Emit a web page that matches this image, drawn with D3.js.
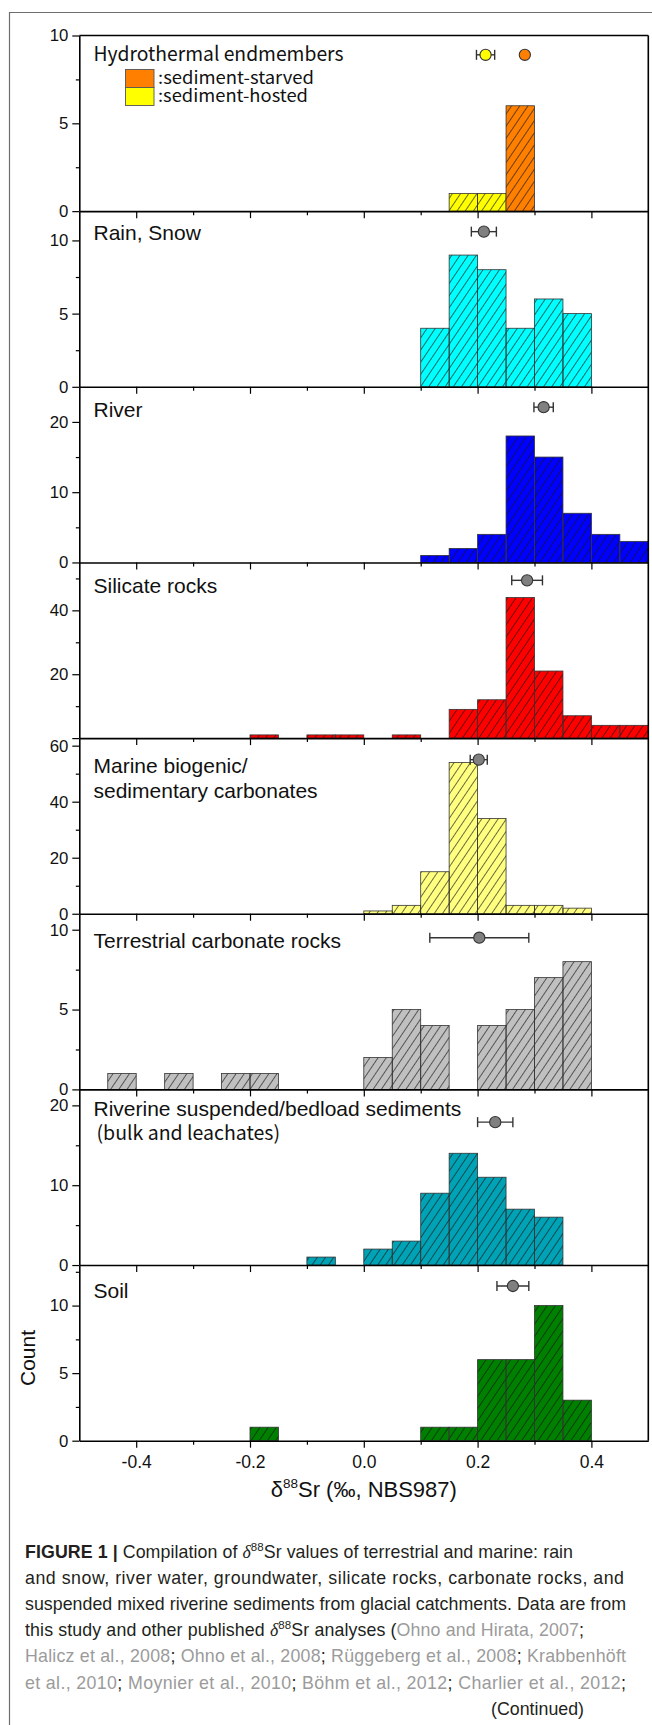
<!DOCTYPE html>
<html>
<head>
<meta charset="utf-8">
<script src="https://cdn.jsdelivr.net/npm/d3@7"></script>
<style>
  body { margin: 0; background: #fff; }
  svg { display: block; }
</style>
</head>
<body>
<svg id="fig" width="652" height="1725"></svg>
<script>
// ---- histogram bins (δ88Sr, ‰) ----
const binEdges = [-0.5, -0.45, -0.4, -0.35, -0.3, -0.25, -0.2, -0.15, -0.1, -0.05, 0,
                  0.05, 0.1, 0.15, 0.2, 0.25, 0.3, 0.35, 0.4, 0.45, 0.5];

// ---- counts per bin, one array per reservoir ----
const hydroHosted    = [0,0,0,0,0,0,0,0,0,0,0,0,0,1,1,0,0,0,0,0];
const hydroStarved   = [0,0,0,0,0,0,0,0,0,0,0,0,0,0,0,6,0,0,0,0];
const rainCounts     = [0,0,0,0,0,0,0,0,0,0,0,0,4,9,8,4,6,5,0,0];
const riverCounts    = [0,0,0,0,0,0,0,0,0,0,0,0,1,2,4,18,15,7,4,3];
const silicateCounts = [0,0,0,0,0,0,1,0,1,1,0,1,0,9,12,44,21,7,4,4];
const marineCounts   = [0,0,0,0,0,0,0,0,0,0,1,3,15,54,34,3,3,2,0,0];
const terrCounts     = [0,1,0,1,0,1,1,0,0,0,2,5,4,0,4,5,7,8,0,0];
const riverineCounts = [0,0,0,0,0,0,0,0,1,0,2,3,9,14,11,7,6,0,0,0];
const soilCounts     = [0,0,0,0,0,0,1,0,0,0,0,0,1,1,6,6,10,3,0,0];

// ---- mean ± 2SD markers ----
const hydroMeans  = [0.214, 0.283];
const hydroErrs   = [0.016, 0.0];
const hydroMarkY  = [8.9, 8.9];
const groupMeans  = [0.211, 0.316, 0.287, 0.202, 0.203, 0.231, 0.262];
const groupErrs   = [0.022, 0.017, 0.027, 0.015, 0.087, 0.031, 0.028];
const groupMarkY  = [10.6, 22.1, 49.4, 55, 9.5, 17.9, 11.45];

// ---- panel titles ----
const panelTitles = [
  ["Hydrothermal endmembers"],
  ["Rain, Snow"],
  ["River"],
  ["Silicate rocks"],
  ["Marine biogenic/", "sedimentary carbonates"],
  ["Terrestrial carbonate rocks"],
  ["Riverine suspended/bedload sediments", "(bulk and leachates)"],
  ["Soil"]
];
const legendLabels = [":sediment-starved", ":sediment-hosted"];

// ---- y axes ----
const yMaxima   = [10, 12, 25, 55, 62.7, 11, 22, 13];
const yMajor    = [[0,5,10],[0,5,10],[0,10,20],[0,20,40],[0,20,40,60],[0,5,10],[0,10,20],[0,5,10]];
const yLabelled = [[0,5,10],[0,5,10],[0,10,20],[20,40],[0,20,40,60],[0,5,10],[0,10,20],[0,5,10]];
const yMinor    = [[2.5,7.5],[2.5,7.5],[5,15],[10,30,50],[10,30,50],[2.5,7.5],[5,15],[2.5,7.5,12.5]];

// ---- x axis ----
const xMajor = [-0.4, -0.2, 0, 0.2, 0.4];
const xMinor = [-0.3, -0.1, 0.1, 0.3];

// ---- caption ----
const captionLines = [
  [["FIGURE 1 | ","b"],["Compilation of "],["δ","d"],["88","s"],["Sr values of terrestrial and marine: rain"]],
  [["and snow, river water, groundwater, silicate rocks, carbonate rocks, and"]],
  [["suspended mixed riverine sediments from glacial catchments. Data are from"]],
  [["this study and other published "],["δ","d"],["88","s"],["Sr analyses ("],["Ohno and Hirata, 2007","g"],[";"]],
  [["Halicz et al., 2008","g"],["; "],["Ohno et al., 2008","g"],["; "],["Rüggeberg et al., 2008","g"],["; "],["Krabbenhöft","g"]],
  [["et al., 2010","g"],["; "],["Moynier et al., 2010","g"],["; "],["Böhm et al., 2012","g"],["; "],["Charlier et al., 2012","g"],[";"]],
];
const captionTail = "(Continued)";

// ---------------- drawing ----------------
const svg = d3.select("#fig");
const plotLeft = 79.3, plotRight = 648.3, plotTop = 35.5, panelH = 175.65;
const nPanels = 8;
const plotBottom = plotTop + nPanels * panelH;
const sans = "'Liberation Sans', Arial, Helvetica, sans-serif";
const jp = "'Noto Sans CJK JP', 'Liberation Sans', sans-serif";
const tickFont = 16.8;

const x = d3.scaleLinear().domain([-0.5, 0.5]).range([plotLeft, plotRight]);

// outer figure frame
svg.append("path")
  .attr("d", "M9.5,1725V12.5H652")
  .attr("fill", "none").attr("stroke", "#6e6e6e").attr("stroke-width", 1.2);

// diagonal hatch
const defs = svg.append("defs");
const pat = defs.append("pattern")
  .attr("id", "hatch").attr("patternUnits", "userSpaceOnUse")
  .attr("width", 6.8).attr("height", 10)
  .attr("patternTransform", "rotate(34)");
pat.append("line")
  .attr("x1", 0.5).attr("y1", -1).attr("x2", 0.5).attr("y2", 11)
  .attr("stroke", "#151515").attr("stroke-width", 0.75).attr("stroke-opacity", 0.85);

const panels = [
  { series: [{ counts: hydroHosted, color: "#ffff00" }, { counts: hydroStarved, color: "#ff8000" }] },
  { series: [{ counts: rainCounts, color: "#00ffff" }] },
  { series: [{ counts: riverCounts, color: "#0000ff" }] },
  { series: [{ counts: silicateCounts, color: "#ff0000" }] },
  { series: [{ counts: marineCounts, color: "#ffff80" }] },
  { series: [{ counts: terrCounts, color: "#c0c0c0" }] },
  { series: [{ counts: riverineCounts, color: "#00a2b6" }] },
  { series: [{ counts: soilCounts, color: "#008000" }] }
];

// title baselines measured from each panel's top edge, and left edges
const titleOffsets = [[25], [29], [30], [31], [35, 60], [34.5], [26.5, 51], [33.3]];
const titleLefts   = [[93.5], [93.5], [93.5], [93.5], [93.5, 93.5], [93.5], [93.5, 96.5], [93.5]];

function drawMarker(g, cx, cy, err, fill) {
  if (err > 0) {
    const x0 = x(cx - err), x1 = x(cx + err);
    g.append("line").attr("x1", x0).attr("x2", x1).attr("y1", cy).attr("y2", cy)
      .attr("stroke", "#333").attr("stroke-width", 1.4);
    [x0, x1].forEach(px => g.append("line")
      .attr("x1", px).attr("x2", px).attr("y1", cy - 5).attr("y2", cy + 5)
      .attr("stroke", "#333").attr("stroke-width", 1.4));
  }
  g.append("circle").attr("cx", x(cx)).attr("cy", cy).attr("r", 5.6)
    .attr("fill", fill).attr("stroke", "#333").attr("stroke-width", 1.1);
}

panels.forEach((p, i) => {
  const top = plotTop + i * panelH, bottom = top + panelH;
  const y = d3.scaleLinear().domain([0, yMaxima[i]]).range([bottom, top]);
  const g = svg.append("g");

  // bars
  p.series.forEach(s => {
    const bins = binEdges.slice(0, -1)
      .map((x0, k) => ({ x0, x1: binEdges[k + 1], n: s.counts[k] }))
      .filter(d => d.n > 0);
    g.append("g").selectAll("rect").data(bins).join("rect")
      .attr("x", d => x(d.x0)).attr("width", d => x(d.x1) - x(d.x0))
      .attr("y", d => y(d.n)).attr("height", d => y(0) - y(d.n))
      .attr("fill", s.color);
    g.append("g").selectAll("rect").data(bins).join("rect")
      .attr("x", d => x(d.x0)).attr("width", d => x(d.x1) - x(d.x0))
      .attr("y", d => y(d.n)).attr("height", d => y(0) - y(d.n))
      .attr("fill", "url(#hatch)")
      .attr("stroke", "#333").attr("stroke-width", 0.8);
  });

  // left axis: major + minor ticks
  const yAx = g.append("g").attr("transform", `translate(${plotLeft},0)`)
    .call(d3.axisLeft(y).tickValues(yMajor[i]).tickSize(7).tickSizeOuter(0).tickPadding(4)
      .tickFormat(v => yLabelled[i].includes(v) ? String(v) : ""));
  yAx.select(".domain").attr("stroke", "#000").attr("stroke-width", 1.6);
  yAx.selectAll(".tick line").attr("stroke", "#000").attr("stroke-width", 1.2);
  yAx.selectAll("text").attr("font-family", sans).attr("font-size", tickFont).attr("fill", "#111");
  const yMin = g.append("g").attr("transform", `translate(${plotLeft},0)`)
    .call(d3.axisLeft(y).tickValues(yMinor[i]).tickSize(3.5).tickSizeOuter(0).tickFormat(""));
  yMin.select(".domain").remove();
  yMin.selectAll(".tick line").attr("stroke", "#000").attr("stroke-width", 1.2);

  // bottom axis: major + minor ticks
  const last = i === nPanels - 1;
  const xAx = g.append("g").attr("transform", `translate(0,${bottom})`)
    .call(d3.axisBottom(x).tickValues(xMajor).tickSize(7).tickSizeOuter(0).tickPadding(8)
      .tickFormat(v => last ? v.toFixed(1) : ""));
  xAx.select(".domain").attr("stroke", "#000").attr("stroke-width", 1.6);
  xAx.selectAll(".tick line").attr("stroke", "#000").attr("stroke-width", 1.2);
  xAx.selectAll("text").attr("font-family", sans).attr("font-size", 17.5).attr("fill", "#111");
  const xMin = g.append("g").attr("transform", `translate(0,${bottom})`)
    .call(d3.axisBottom(x).tickValues(xMinor).tickSize(4).tickSizeOuter(0).tickFormat(""));
  xMin.select(".domain").remove();
  xMin.selectAll(".tick line").attr("stroke", "#000").attr("stroke-width", 1.2);

  // title
  panelTitles[i].forEach((line, k) => {
    const t = g.append("text")
      .attr("x", titleLefts[i][k]).attr("y", top + titleOffsets[i][k])
      .attr("font-family", (i === 0 || (i === 6 && k === 1)) ? jp : sans)
      .attr("font-size", i === 0 ? 20 : 21)
      .attr("fill", "#111")
      .text(line);
    if (i === 0) t.attr("textLength", 250).attr("lengthAdjust", "spacingAndGlyphs");
    if (i === 6 && k === 1) t.attr("font-size", 19.5);
  });

  // markers
  if (i === 0) {
    const hostedColor = p.series[0].color, starvedColor = p.series[1].color;
    const fills = [hostedColor, starvedColor];
    hydroMeans.forEach((m, k) => drawMarker(g, m, y(hydroMarkY[k]), hydroErrs[k], fills[k]));

    // legend
    const lg = g.append("g");
    [starvedColor, hostedColor].forEach((c, k) => {
      lg.append("rect").attr("x", 125.5).attr("y", 69.5 + k * 18).attr("width", 28.5).attr("height", 18)
        .attr("fill", c).attr("stroke", "#555").attr("stroke-width", 0.9);
      lg.append("text").attr("x", 158).attr("y", 83.5 + k * 18)
        .attr("font-family", jp).attr("font-size", 17).attr("fill", "#111")
        .attr("textLength", k === 0 ? 156 : 150).attr("lengthAdjust", "spacingAndGlyphs")
        .text(legendLabels[k]);
    });
  } else {
    drawMarker(g, groupMeans[i - 1], y(groupMarkY[i - 1]), groupErrs[i - 1], "#808080");
  }
});

// plot top and right borders
svg.append("line").attr("x1", plotLeft).attr("x2", plotRight).attr("y1", plotTop).attr("y2", plotTop)
  .attr("stroke", "#000").attr("stroke-width", 1.6);
svg.append("line").attr("x1", plotRight).attr("x2", plotRight).attr("y1", plotTop).attr("y2", plotBottom)
  .attr("stroke", "#000").attr("stroke-width", 1.6);

// axis titles
const xl = svg.append("text").attr("x", (plotLeft + plotRight) / 2).attr("y", 1497)
  .attr("text-anchor", "middle").attr("font-family", sans).attr("font-size", 22).attr("fill", "#111");
xl.append("tspan").text("δ");
xl.append("tspan").attr("dy", -9).attr("font-size", 13.5).text("88");
xl.append("tspan").attr("dy", 9).text("Sr (‰, NBS987)");

svg.append("text").attr("transform", "translate(35,1358) rotate(-90)")
  .attr("text-anchor", "middle").attr("font-family", sans).attr("font-size", 21).attr("fill", "#111")
  .text("Count");

// caption
const capLeft = 25, capTop = 1558, capStep = 26.1;
const capWidths = [548, 599, 601, 559, 601, 601];
captionLines.forEach((segs, li) => {
  const t = svg.append("text").attr("x", capLeft).attr("y", capTop + li * capStep)
    .attr("font-family", sans).attr("font-size", 17.8).attr("fill", "#231f20")
    .attr("textLength", capWidths[li]).attr("lengthAdjust", "spacing");
  let prevSup = false;
  segs.forEach(([txt, st]) => {
    const s = t.append("tspan").text(txt);
    if (st === "b") s.attr("font-weight", "bold");
    if (st === "g") s.attr("fill", "#9b9b9b");
    if (st === "d") s.attr("font-style", "italic").attr("font-family", "'Liberation Serif', serif");
    if (st === "s") s.attr("font-size", 11.5).attr("dy", -7);
    if (prevSup) s.attr("dy", 7);
    prevSup = st === "s";
  });
});
svg.append("text").attr("x", 584).attr("y", capTop + 6 * capStep)
  .attr("text-anchor", "end").attr("font-family", sans).attr("font-size", 17.8).attr("fill", "#231f20")
  .text(captionTail);
</script>
</body>
</html>
